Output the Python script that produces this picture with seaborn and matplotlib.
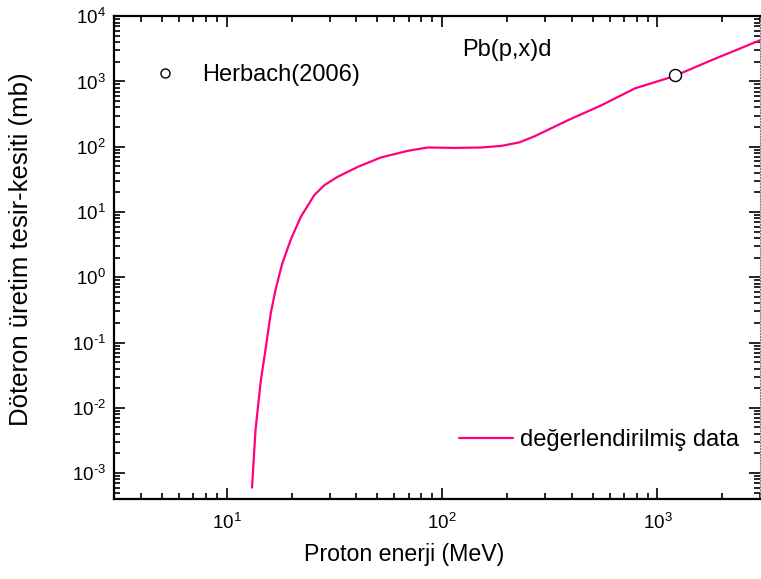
import numpy as np
import pandas as pd
import matplotlib
matplotlib.use("Agg")
import matplotlib.pyplot as plt
import seaborn as sns
from matplotlib.lines import Line2D
from matplotlib.ticker import FixedLocator, LogLocator, NullFormatter, FuncFormatter

# =========================
# dados
# =========================
enerji = [13.1, 13.6, 14.4, 15.2, 16.0, 16.9, 18.1, 19.9, 22.1, 25.5, 28.4,
          32.7, 40.6, 52, 69.2, 85.7, 114, 152, 188, 229, 269, 384, 550,
          784, 1194, 1782, 3000]
tesir_kesiti = [6.0e-4, 4.6e-3, 2.65e-2, 8.6e-2, 0.279, 0.676, 1.63, 3.9,
                8.5, 18.2, 25.8, 34.6, 49.2, 68.6, 86.5, 97.5, 96, 97.5, 103,
                117, 145, 255, 433, 782, 1205, 2120, 4290]

herbach_x = [1200]
herbach_y = [1240]

x_ticks = [10, 100, 1000]
y_ticks = [1e-3, 1e-2, 1e-1, 1e0, 1e1, 1e2, 1e3, 1e4]

df_model = pd.DataFrame({"E": enerji, "sigma": tesir_kesiti})
df_exp = pd.DataFrame({"E": herbach_x, "sigma": herbach_y})

# =========================
# estilo
# =========================
sns.set_style("ticks", {"axes.edgecolor": "black", "xtick.color": "black",
                        "ytick.color": "black", "text.color": "black",
                        "axes.labelcolor": "black"})
plt.rcParams["font.family"] = ["Liberation Sans", "DejaVu Sans"]
plt.rcParams["mathtext.fontset"] = "custom"
plt.rcParams["mathtext.rm"] = "Liberation Sans"
plt.rcParams["mathtext.it"] = "Liberation Sans:italic"
plt.rcParams["mathtext.bf"] = "Liberation Sans:bold"

fig = plt.figure(figsize=(7.61, 5.79), dpi=100)
ax = fig.add_axes([0.150, 0.138, 0.849, 0.834])

sns.lineplot(data=df_model, x="E", y="sigma", ax=ax, color="#ff0080",
             linewidth=1.6, sort=False)
sns.scatterplot(data=df_exp, x="E", y="sigma", ax=ax, marker="o",
                facecolor="white", edgecolor="black", linewidth=1.0, s=75,
                zorder=5)

ax.set_xscale("log")
ax.set_yscale("log")
ax.set_xlim(3, 3000)
ax.set_ylim(4e-4, 1e4)


def rotulo_potencia(valor, pos):
    expoente = int(round(np.log10(valor)))
    if expoente < 0:
        return r"$\mathregular{10^{\text{-%d}}}$" % abs(expoente)
    return r"$\mathregular{10^{%d}}$" % expoente


ax.xaxis.set_major_locator(FixedLocator(x_ticks))
ax.xaxis.set_minor_locator(LogLocator(base=10, subs=np.arange(2, 10), numticks=10))
ax.yaxis.set_major_locator(FixedLocator(y_ticks))
ax.yaxis.set_minor_locator(LogLocator(base=10, subs=np.arange(2, 10), numticks=12))
ax.xaxis.set_major_formatter(FuncFormatter(rotulo_potencia))
ax.yaxis.set_major_formatter(FuncFormatter(rotulo_potencia))
ax.xaxis.set_minor_formatter(NullFormatter())
ax.yaxis.set_minor_formatter(NullFormatter())

ax.tick_params(which="both", direction="in", top=True, right=True,
               labelsize=13.5, width=1.2, color="black", labelcolor="black")
ax.tick_params(which="major", length=8)
ax.tick_params(which="minor", length=4)
ax.tick_params(axis="x", which="major", pad=10)
ax.tick_params(axis="y", which="major", pad=6)

for lado in ["left", "bottom", "top"]:
    ax.spines[lado].set_linewidth(1.6)
    ax.spines[lado].set_color("black")
ax.spines["right"].set_linestyle(":")
ax.spines["right"].set_linewidth(0.8)
ax.spines["right"].set_color("gray")

ax.set_xlabel("Proton enerji (MeV)", fontsize=16.7, color="black")
ax.set_ylabel("Döteron üretim tesir-kesiti (mb)", fontsize=18.5, color="black")
ax.xaxis.set_label_coords(0.449, -0.09)
ax.yaxis.set_label_coords(-0.125, 0.518)

ax.text(0.539, 0.93, "Pb(p,x)d", transform=ax.transAxes, fontsize=17,
        ha="left", va="center", color="black")

# legendas
h_exp = Line2D([], [], marker="o", linestyle="none", markerfacecolor="white",
               markeredgecolor="black", markersize=6.5)
leg1 = ax.legend([h_exp], ["Herbach(2006)"], loc="upper left",
                 bbox_to_anchor=(0.016, 0.945), frameon=False, fontsize=17,
                 handletextpad=0.8, handlelength=1.6, labelcolor="black")
ax.add_artist(leg1)

h_mod = Line2D([], [], color="#ff0080", linewidth=1.6)
ax.legend([h_mod], ["değerlendirilmiş data"], loc="lower right",
          bbox_to_anchor=(1.0, 0.055), frameon=False, fontsize=17,
          handlelength=2.3, handletextpad=0.3, labelcolor="black")

plt.savefig("out.png", dpi=100)
